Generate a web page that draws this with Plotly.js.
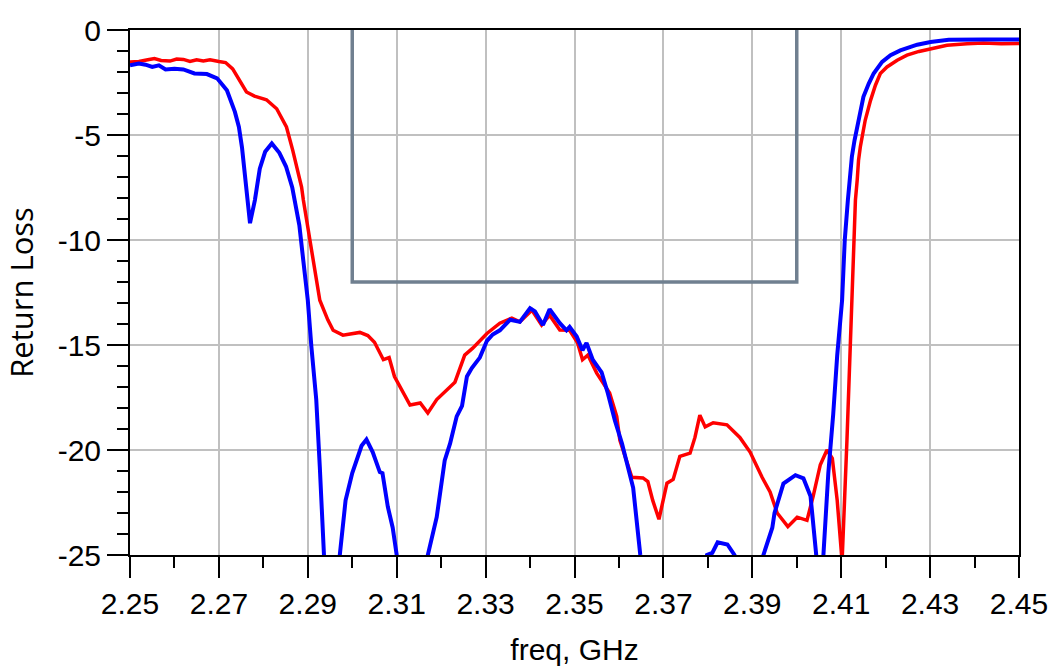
<!DOCTYPE html>
<html>
<head>
<meta charset="utf-8">
<script src="https://cdn.plot.ly/plotly-3.0.1.min.js"></script>
<style>
  html, body { margin: 0; padding: 0; background: #fff; }
  #chart { width: 1051px; height: 666px; }
</style>
</head>
<body>
<div id="chart"></div>
<script>
// ---- data ----
const redFreq = [
  2.2500, 2.2520, 2.2540, 2.2555, 2.2570, 2.2590, 2.2605, 2.2620, 2.2635, 2.2650,
  2.2665, 2.2680, 2.2700, 2.2715, 2.2731, 2.2747, 2.2762, 2.2780, 2.2795, 2.2807,
  2.2830, 2.2852, 2.2866, 2.2880, 2.2886, 2.2890, 2.2904, 2.2927, 2.2945, 2.2957,
  2.2979, 2.3000, 2.3017, 2.3035, 2.3050, 2.3070, 2.3083, 2.3095, 2.3130, 2.3153,
  2.3170, 2.3190, 2.3208, 2.3231, 2.3253, 2.3271, 2.3303, 2.3332, 2.3359, 2.3377,
  2.3404, 2.3426, 2.3444, 2.3467, 2.3489, 2.3507, 2.3518, 2.3530, 2.3550, 2.3579,
  2.3595, 2.3602, 2.3629, 2.3654, 2.3665, 2.3676, 2.3690, 2.3708, 2.3722, 2.3737,
  2.3760, 2.3771, 2.3782, 2.3794, 2.3812, 2.3843, 2.3872, 2.3895, 2.3922, 2.3940,
  2.3956, 2.3980, 2.4001, 2.4023, 2.4037, 2.4053, 2.4068, 2.4080, 2.4091, 2.4102,
  2.4113, 2.4120, 2.4124, 2.4128, 2.4132, 2.4136, 2.4139, 2.4143, 2.4148, 2.4154,
  2.4166, 2.4177, 2.4188, 2.4203, 2.4226, 2.4248, 2.4275, 2.4301, 2.4338, 2.4383,
  2.4420, 2.4460, 2.4500
];
const redLoss = [
  -1.52, -1.50, -1.42, -1.36, -1.45, -1.48, -1.38, -1.40, -1.50, -1.42,
  -1.47, -1.42, -1.50, -1.55, -1.85, -2.40, -2.95, -3.15, -3.25, -3.32,
  -3.75, -4.62, -5.72, -6.90, -7.48, -8.10, -9.90, -12.87, -13.80, -14.30,
  -14.53, -14.45, -14.40, -14.55, -14.87, -15.70, -15.60, -16.50, -17.86, -17.76,
  -18.24, -17.60, -17.25, -16.77, -15.48, -15.15, -14.45, -13.96, -13.72, -13.90,
  -13.34, -14.05, -13.58, -14.29, -14.30, -14.90, -15.70, -15.48, -16.34, -17.29,
  -18.40, -19.53, -21.30, -21.33, -21.50, -22.40, -23.30, -21.58, -21.40, -20.30,
  -20.15, -19.40, -18.34, -18.90, -18.70, -18.80, -19.40, -20.10, -21.30, -22.00,
  -23.00, -23.65, -23.20, -23.35, -22.20, -20.70, -20.00, -20.40, -22.40, -25.30,
  -19.50, -15.50, -12.90, -10.00, -8.10, -7.15, -6.20, -5.57, -4.93, -4.30,
  -3.35, -2.63, -2.07, -1.76, -1.44, -1.20, -1.02, -0.89, -0.73, -0.65,
  -0.62, -0.66, -0.64
];

const blueFreq = [
  2.2500, 2.2520, 2.2535, 2.2550, 2.2565, 2.2580, 2.2600, 2.2620, 2.2645, 2.2673,
  2.2696, 2.2718, 2.2736, 2.2745, 2.2752, 2.2760, 2.2770, 2.2781, 2.2792, 2.2804,
  2.2819, 2.2836, 2.2851, 2.2865, 2.2881, 2.2890, 2.2900, 2.2908, 2.2919, 2.2927,
  2.2934, 2.2952, 2.2972, 2.2985, 2.3000, 2.3021, 2.3032, 2.3046, 2.3062, 2.3068,
  2.3080, 2.3091, 2.3100, 2.3135, 2.3170, 2.3190, 2.3208, 2.3220, 2.3235, 2.3247,
  2.3258, 2.3269, 2.3287, 2.3303, 2.3316, 2.3332, 2.3355, 2.3377, 2.3400, 2.3411,
  2.3429, 2.3444, 2.3467, 2.3482, 2.3489, 2.3505, 2.3518, 2.3527, 2.3541, 2.3561,
  2.3575, 2.3591, 2.3607, 2.3625, 2.3632, 2.3648, 2.3720, 2.3798, 2.3810, 2.3822,
  2.3844, 2.3860, 2.3893, 2.3925, 2.3945, 2.3950, 2.3970, 2.3997, 2.4015, 2.4031,
  2.4042, 2.4046, 2.4053, 2.4060, 2.4071, 2.4082, 2.4091, 2.4102, 2.4108, 2.4115,
  2.4124, 2.4130, 2.4136, 2.4143, 2.4150, 2.4162, 2.4173, 2.4192, 2.4211, 2.4233,
  2.4271, 2.4301, 2.4342, 2.4420, 2.4500
];
const blueLoss = [
  -1.68, -1.60, -1.65, -1.76, -1.68, -1.88, -1.85, -1.88, -2.07, -2.10,
  -2.30, -2.87, -3.90, -4.62, -5.60, -7.40, -9.20, -8.10, -6.60, -5.80,
  -5.40, -5.85, -6.50, -7.50, -9.30, -11.00, -12.87, -15.07, -17.60, -20.80,
  -25.00, -32.00, -25.00, -22.40, -21.10, -19.80, -19.50, -20.10, -21.05, -21.10,
  -22.70, -23.70, -25.00, -31.00, -25.00, -23.20, -20.50, -19.70, -18.40, -17.90,
  -16.50, -16.10, -15.60, -14.80, -14.50, -14.30, -13.80, -13.90, -13.25, -13.40,
  -14.05, -13.30, -13.96, -14.30, -14.14, -14.60, -15.25, -14.90, -15.70, -16.30,
  -17.30, -18.60, -19.70, -21.10, -21.80, -25.00, -33.00, -25.00, -24.90, -24.40,
  -24.50, -25.00, -28.00, -25.00, -23.70, -23.00, -21.60, -21.20, -21.35, -22.20,
  -24.30, -25.00, -27.00, -25.00, -21.10, -18.30, -15.50, -12.87, -10.00, -8.10,
  -6.03, -5.25, -4.60, -3.82, -3.18, -2.55, -2.07, -1.52, -1.20, -0.97,
  -0.70, -0.57, -0.46, -0.45, -0.45
];

const maskFreq = [2.30, 2.30, 2.40, 2.40];
const maskLoss = [0, -12, -12, 0];

const yTickVals = [0, -5, -10, -15, -20, -25];
const yTickText = ["0", "-5", "-10", "-15", "-20", "-25"];

// ---- chart ----
const traces = [
  { x: maskFreq, y: maskLoss, mode: 'lines', line: { color: '#708090', width: 3.5 }, hoverinfo: 'skip' },
  { x: redFreq, y: redLoss, mode: 'lines', line: { color: '#FF0000', width: 3.5 } },
  { x: blueFreq, y: blueLoss, mode: 'lines', line: { color: '#0000FF', width: 4 } }
];

const tickFont = { family: 'Liberation Sans, Arial, sans-serif', size: 30, color: '#000' };

const layout = {
  width: 1051, height: 666,
  margin: { l: 130, r: 32, t: 30, b: 111 },
  paper_bgcolor: '#fff', plot_bgcolor: '#fff',
  showlegend: false,
  xaxis: {
    range: [2.25, 2.45],
    tickmode: 'linear', tick0: 2.25, dtick: 0.02,
    tickformat: '.2f',
    ticks: 'outside', ticklen: 21, tickwidth: 2, tickcolor: '#000',
    showline: true, linecolor: '#000', linewidth: 2, mirror: true,
    showgrid: true, gridcolor: '#C0C0C0', gridwidth: 2,
    zeroline: false,
    tickfont: tickFont,
    minor: { tickmode: 'linear', tick0: 2.25, dtick: 0.01, ticks: 'outside', ticklen: 11, tickwidth: 2, tickcolor: '#000', showgrid: false },
    title: { text: 'freq, GHz', font: { family: 'Liberation Sans, Arial, sans-serif', size: 30, color: '#000' }, standoff: 30 }
  },
  yaxis: {
    range: [-25, 0],
    tickmode: 'array', tickvals: yTickVals, ticktext: yTickText,
    ticks: 'outside', ticklen: 21, tickwidth: 2, tickcolor: '#000',
    showline: true, linecolor: '#000', linewidth: 2, mirror: true,
    showgrid: true, gridcolor: '#C0C0C0', gridwidth: 2,
    zeroline: false,
    tickfont: tickFont,
    minor: { tickmode: 'linear', tick0: 0, dtick: 1, ticks: 'outside', ticklen: 11, tickwidth: 2, tickcolor: '#000', showgrid: false },
    title: { text: 'Return Loss', font: { family: 'Open Sans, sans-serif', size: 31, color: '#000' }, standoff: 20 }
  }
};

Plotly.newPlot('chart', traces, layout, { staticPlot: true, displayModeBar: false });
</script>
</body>
</html>
